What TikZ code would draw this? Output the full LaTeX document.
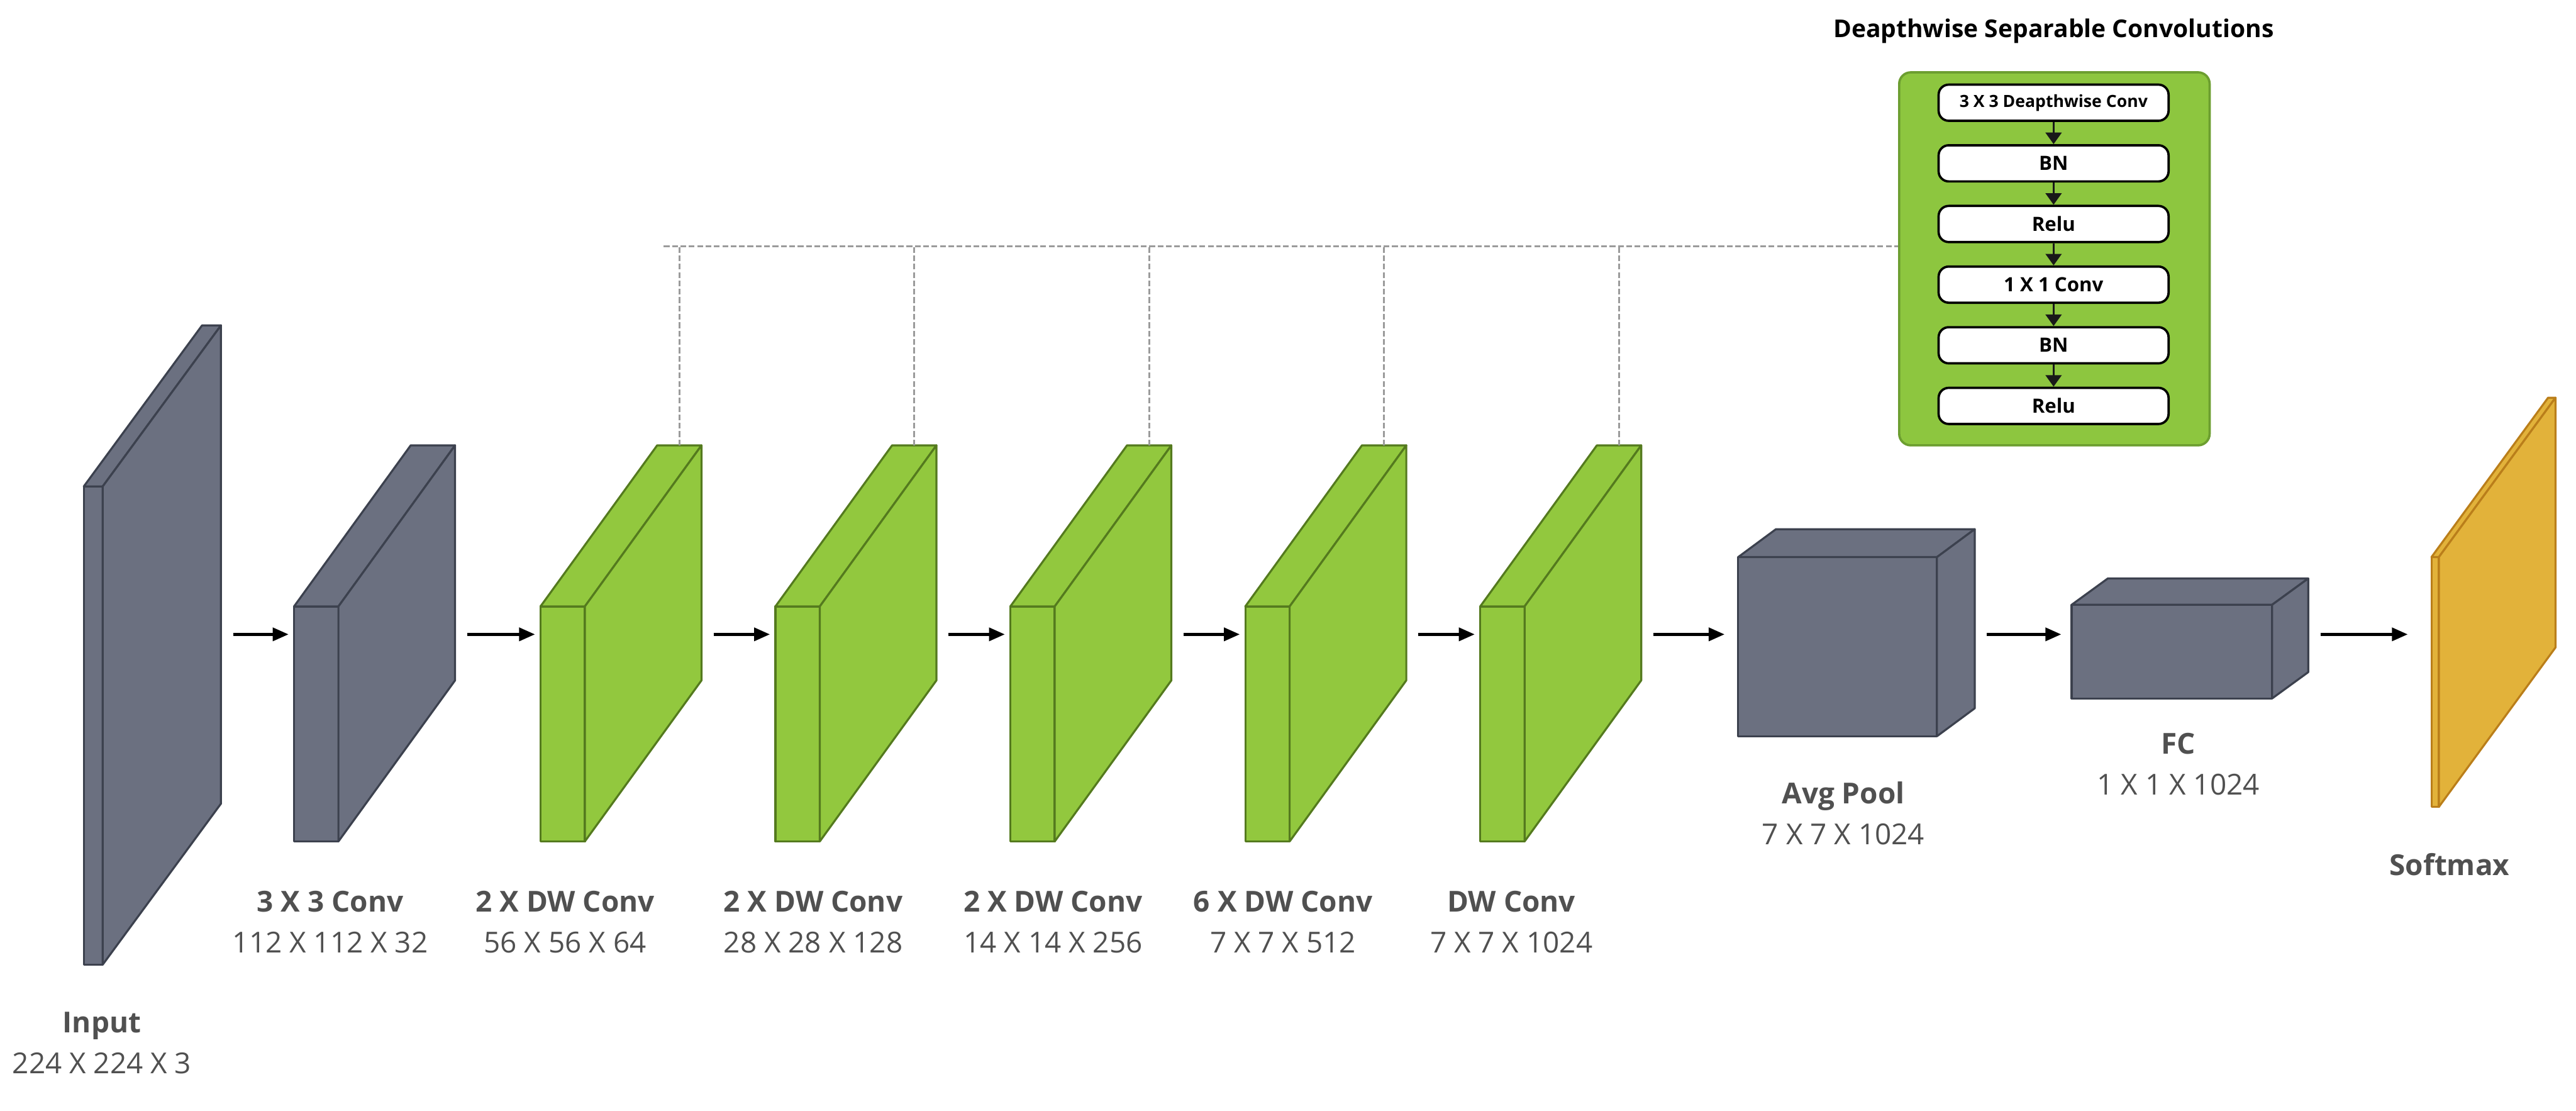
\documentclass[tikz,border=0pt]{standalone}
\usepackage{fontspec}
\setmainfont{Open Sans}
\usetikzlibrary{arrows.meta,positioning,fit}

\definecolor{slate}{RGB}{107,112,128}
\definecolor{slateedge}{RGB}{60,65,78}
\definecolor{leaf}{RGB}{146,200,62}
\definecolor{leafedge}{RGB}{84,122,30}
\definecolor{amber}{RGB}{226,178,58}
\definecolor{amberedge}{RGB}{186,126,26}
\definecolor{panelgreen}{RGB}{141,198,63}
\definecolor{paneledge}{RGB}{108,158,48}
\definecolor{labelgray}{RGB}{80,80,80}
\definecolor{busgray}{RGB}{155,155,155}

%% 3D feature map: name, x, y (front top-left), width, height, depth x, depth y, style
\newcommand{\fmap}[8]{%
	\begin{scope}[shift={(#2,#3)}]
		\filldraw[#8] (0,0) rectangle (#4,#5);
		\filldraw[#8] (0,0) -- (#6,#7) -- (#6+#4,#7) -- (#4,0) -- cycle;
		\filldraw[#8] (#4,0) -- (#4+#6,#7) -- (#4+#6,#7+#5) -- (#4,#5) -- cycle;
	\end{scope}
	\node[inner sep=0pt, fit={(#2,#3+#7) (#2+#4+#6,#3+#5)}] (#1) {};
	\coordinate (#1-top) at (#2+#6+#4/2, #3+#7);
}

\begin{document}
\begin{tikzpicture}[
			x=0.02cm, y=-0.02cm,
			font=\fontsize{10}{14.2}\selectfont,
			graybox/.style={fill=slate, draw=slateedge, line width=0.7pt, line join=round},
			greenbox/.style={fill=leaf, draw=leafedge, line width=0.7pt, line join=round},
			outbox/.style={fill=amber, draw=amberedge, line width=0.7pt, line join=round},
			lbl/.style={align=center, text=labelgray, inner sep=0pt},
			arr/.style={-{Triangle[length=5.5pt,width=4.5pt]}, line width=1.1pt,
				shorten <=4pt, shorten >=1.7pt},
			bus/.style={busgray, line width=0.6pt, dash pattern=on 2pt off 0.9pt},
			dspanel/.style={
				rectangle, rounded corners=4pt,
				draw=paneledge, line width=0.8pt, fill=panelgreen,
				minimum width=3.78cm, minimum height=4.54cm
			},
			dsbox/.style={
				rectangle, rounded corners=3.5pt,
				draw=black, line width=0.8pt, fill=white,
				minimum width=2.8cm, minimum height=0.44cm, inner sep=0pt,
				font=\fontsize{6.8}{8}\selectfont\bfseries
			},
			dsarr/.style={-{Triangle[length=4pt,width=5.5pt]}, line width=0.8pt, black!90}
			]
			
			\useasboundingbox (0,0) rectangle (1568,676);
			
			%% ── Feature maps ────────────────────────────────────────────────────
			\fmap{input}{51}{296}{11.5}{291}{72}{-98}{graybox}
			\fmap{conv}{179}{369}{27}{143}{71}{-98}{graybox}
			\foreach \i/\x in {1/329, 2/472, 3/615, 4/758, 5/901}{
				\fmap{dw\i}{\x}{369}{27}{143}{71}{-98}{greenbox}
			}
			\fmap{pool}{1058}{339}{121}{109}{23}{-17}{graybox}
			\fmap{fc}{1261}{368}{122}{57}{22}{-16}{graybox}
			\fmap{soft}{1480}{339}{4.5}{152}{71}{-97}{outbox}
			
			%% ── Labels ──────────────────────────────────────────────────────────
			\node[lbl] (input-l) at (62, 634.5) {\textbf{Input}\\224 X 224 X 3};
			\node[lbl] (conv-l)  at (201, 561) {\textbf{3 X 3 Conv}\\112 X 112 X 32};
			\node[lbl] (dw1-l)   at (344, 561) {\textbf{2 X DW Conv}\\56 X 56 X 64};
			\node[lbl] (dw2-l)   at (495, 561) {\textbf{2 X DW Conv}\\28 X 28 X 128};
			\node[lbl] (dw3-l)   at (641, 561) {\textbf{2 X DW Conv}\\14 X 14 X 256};
			\node[lbl] (dw4-l)   at (781, 561) {\textbf{6 X DW Conv}\\7 X 7 X 512};
			\node[lbl] (dw5-l)   at (920, 561) {\textbf{DW Conv}\\7 X 7 X 1024};
			\node[lbl] (pool-l)  at (1122, 495) {\textbf{Avg Pool}\\7 X 7 X 1024};
			\node[lbl] (fc-l)    at (1326, 465) {\textbf{FC}\\1 X 1 X 1024};
			\node[lbl] (soft-l)  at (1491, 526) {\textbf{Softmax}};
			
			%% ── Main flow ───────────────────────────────────────────────────────
			\coordinate (row) at (0,386);
			\foreach \a/\b in {input/conv, conv/dw1, dw1/dw2, dw2/dw3, dw3/dw4, dw4/dw5}
			\draw[arr] (\a.east |- row) -- (\b.west |- row);
			\draw[arr, shorten >=4.5pt] (dw5.east |- row) -- (pool.west |- row);
			\draw[arr, shorten >=3.4pt] (pool.east |- row) -- (fc.west |- row);
			\draw[arr, shorten >=8pt]   (fc.east |- row) -- (soft.west |- row);
			
			%% ── Depthwise separable block ───────────────────────────────────────
			\node[dspanel] (panel) at (1250.5, 157.5) {};
			\node[font=\fontsize{8.5}{10}\selectfont\bfseries] (paneltitle) at (1250, 19)
			{Deapthwise Separable Convolutions};
			
			\node[dsbox, font=\fontsize{5.8}{7}\selectfont\bfseries] (ds1) at (1250, 62.5)
			{3 X 3 Deapthwise Conv};
			\node[dsbox, below=0.27cm of ds1] (ds2) {BN};
			\node[dsbox, below=0.27cm of ds2] (ds3) {Relu};
			\node[dsbox, below=0.27cm of ds3] (ds4) {1 X 1 Conv};
			\node[dsbox, below=0.27cm of ds4] (ds5) {BN};
			\node[dsbox, below=0.27cm of ds5] (ds6) {Relu};
			
			\foreach \a/\b in {ds1/ds2, ds2/ds3, ds3/ds4, ds4/ds5, ds5/ds6}
			\draw[dsarr] (\a) -- (\b);
			
			%% dashed bus from the DW layers to the block
			\coordinate (busstart) at (404,150);
			\draw[bus] (busstart) -- (busstart -| panel.west);
			\foreach \i in {1,...,5}
			\draw[bus] (dw\i-top) -- (dw\i-top |- busstart);
			
		\end{tikzpicture}
\end{document}
